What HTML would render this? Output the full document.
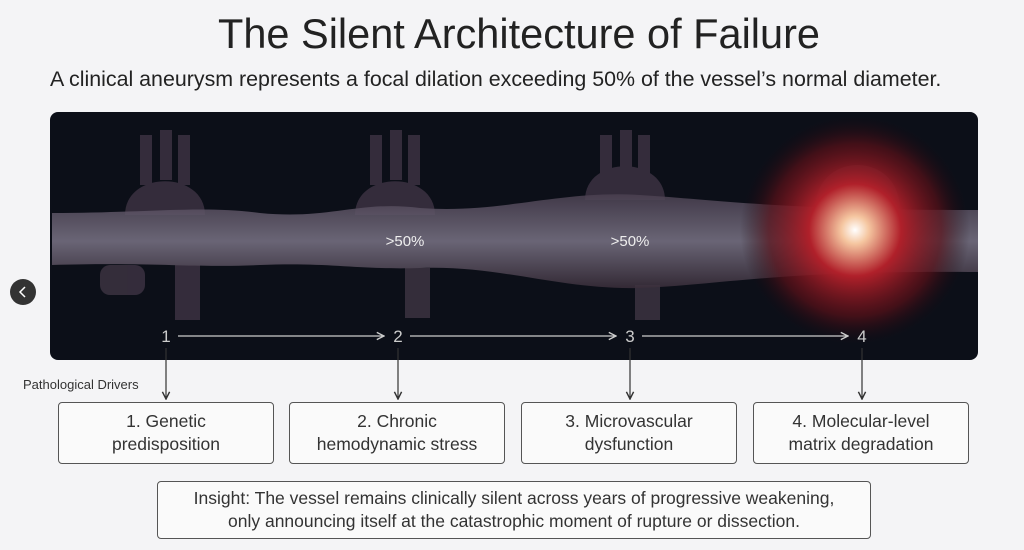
<!DOCTYPE html>
<html><head><meta charset="utf-8"><style>
body{margin:0;width:1024px;height:550px;background:#f4f4f6;font-family:"Liberation Sans",sans-serif;position:relative;overflow:hidden;color:#222}
.t{position:absolute;left:0;width:1038px;text-align:center;top:10px;font-size:41.5px;color:#222}
.s{position:absolute;left:50px;top:67px;font-size:21.4px;color:#222;white-space:nowrap}
.b{position:absolute;top:402px;width:214px;height:60px;border:1.5px solid #555;border-radius:4px;background:#fafafa;display:flex;align-items:center;justify-content:center;text-align:center;font-size:17.5px;line-height:23px;color:#333}
.i{position:absolute;left:157px;top:481px;width:712px;height:56px;border:1.5px solid #555;border-radius:4px;background:#fafafa;display:flex;align-items:center;justify-content:center;text-align:center;font-size:17.5px;line-height:23px;color:#333}
</style></head><body>
<div class="t">The Silent Architecture of Failure</div>
<div class="s">A clinical aneurysm represents a focal dilation exceeding 50% of the vessel’s normal diameter.</div>
<svg width="1024" height="550" style="position:absolute;left:0;top:0">
<defs>
<linearGradient id="v" x1="0" y1="0" x2="0" y2="1"><stop offset="0" stop-color="#4a4050"/><stop offset=".5" stop-color="#7a7486"/><stop offset="1" stop-color="#3a2e3a"/></linearGradient>
<radialGradient id="r" cx=".5" cy=".5" r=".5"><stop offset="0" stop-color="#fff"/><stop offset=".12" stop-color="#f5c6a0"/><stop offset=".4" stop-color="#b0202a"/><stop offset=".75" stop-color="#5a1018" stop-opacity=".7"/><stop offset="1" stop-color="#1a0a10" stop-opacity="0"/></radialGradient>
<radialGradient id="a" cx=".5" cy=".5" r=".5"><stop offset="0" stop-color="#5a4a58"/><stop offset="1" stop-color="#0c0f18" stop-opacity="0"/></radialGradient>
<marker id="m" markerWidth="8" markerHeight="8" refX="7" refY="4" orient="auto"><path d="M1,1 L7,4 L1,7" fill="none" stroke="#ccc" stroke-width="1.2"/></marker>
<marker id="d" markerWidth="8" markerHeight="8" refX="7" refY="4" orient="auto"><path d="M1,1 L7,4 L1,7" fill="none" stroke="#333" stroke-width="1.2"/></marker>
</defs>
<rect x="50" y="112" width="928" height="248" rx="8" fill="#0c0f18"/>
<g fill="#3e3444" opacity=".8">
<path d="M125,215 C125,170 205,170 205,215 Z"/><path d="M355,215 C355,170 435,170 435,215 Z"/><path d="M585,200 C585,155 665,155 665,200 Z"/><path d="M815,210 C815,150 900,150 900,210 Z"/>
<rect x="140" y="135" width="12" height="50"/><rect x="160" y="130" width="12" height="50"/><rect x="178" y="135" width="12" height="50"/>
<rect x="370" y="135" width="12" height="50"/><rect x="390" y="130" width="12" height="50"/><rect x="408" y="135" width="12" height="50"/>
<rect x="600" y="135" width="12" height="40"/><rect x="620" y="130" width="12" height="40"/><rect x="638" y="135" width="12" height="40"/>
<rect x="100" y="265" width="45" height="30" rx="10"/><rect x="175" y="265" width="25" height="55"/><rect x="405" y="268" width="25" height="50"/><rect x="635" y="285" width="25" height="35"/>
</g>
<path d="M52,213 C150,213 200,205 260,213 C330,220 360,200 420,208 C500,214 560,190 640,195 C720,200 780,210 978,210 L978,272 C780,270 720,285 640,288 C560,290 500,265 420,268 C360,270 330,262 260,265 C200,268 150,262 52,265Z" fill="url(#v)" opacity=".85"/>
<circle cx="855" cy="230" r="115" fill="url(#r)"/>
<text x="405" y="246" fill="#eee" font-size="15" text-anchor="middle" font-family="Liberation Sans">&gt;50%</text>
<text x="630" y="246" fill="#eee" font-size="15" text-anchor="middle" font-family="Liberation Sans">&gt;50%</text>
<g fill="#ccc" font-size="17" font-family="Liberation Sans" text-anchor="middle">
<text x="166" y="342">1</text><text x="398" y="342">2</text><text x="630" y="342">3</text><text x="862" y="342">4</text></g>
<g stroke="#ccc" stroke-width="1.2" marker-end="url(#m)">
<line x1="178" y1="336" x2="384" y2="336"/><line x1="410" y1="336" x2="616" y2="336"/><line x1="642" y1="336" x2="848" y2="336"/></g>
<g stroke="#333" stroke-width="1.2" marker-end="url(#d)">
<line x1="166" y1="348" x2="166" y2="399"/><line x1="398" y1="348" x2="398" y2="399"/><line x1="630" y1="348" x2="630" y2="399"/><line x1="862" y1="348" x2="862" y2="399"/></g>
<text x="23" y="389" font-size="13" fill="#333" font-family="Liberation Sans">Pathological Drivers</text>
<circle cx="23" cy="292" r="13" fill="#333"/>
<path d="M25,287 L20,292 L25,297" fill="none" stroke="#fff" stroke-width="1.5"/>
</svg>
<div class="b" style="left:58px">1. Genetic<br>predisposition</div>
<div class="b" style="left:289px">2. Chronic<br>hemodynamic stress</div>
<div class="b" style="left:521px">3. Microvascular<br>dysfunction</div>
<div class="b" style="left:753px">4. Molecular-level<br>matrix degradation</div>
<div class="i">Insight: The vessel remains clinically silent across years of progressive weakening,<br>only announcing itself at the catastrophic moment of rupture or dissection.</div>
</body></html>
